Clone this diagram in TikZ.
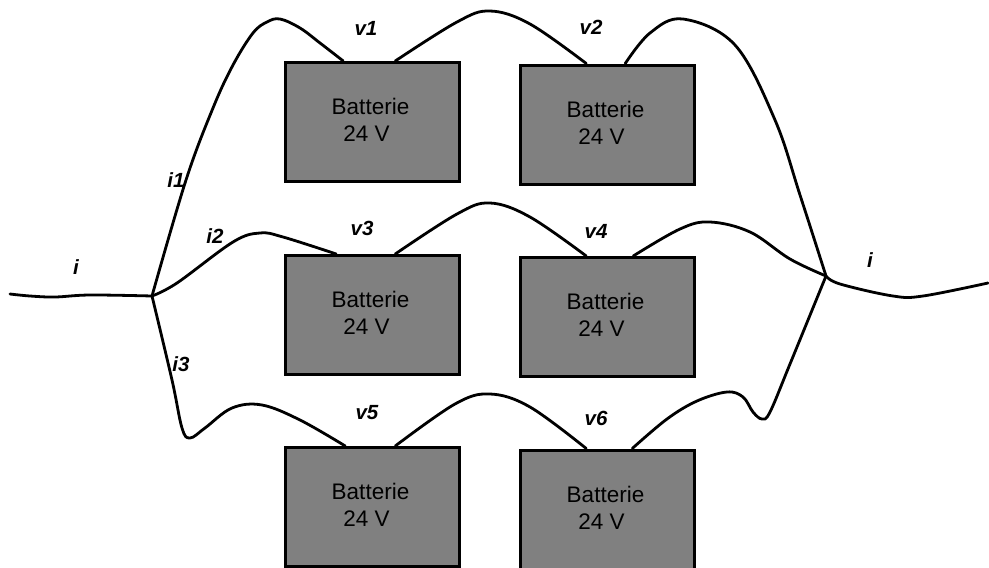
\documentclass[tikz,border=0pt]{standalone}
\usepackage{fontspec}
\setmainfont{Liberation Sans}
\tikzset{
	battbox/.style={draw=black,line width=3pt,fill=battgray,minimum width=173.5pt,minimum height=119pt,inner sep=0pt,align=center,font=\fontsize{22.5}{27}\selectfont},
	wire/.style={line width=2.8pt,line join=round,line cap=round},
	curlabel/.style={font=\fontsize{20.5}{24}\selectfont\bfseries\itshape,inner sep=0pt}
}
\definecolor{battgray}{HTML}{808080}
\newcommand{\battext}{Batterie\hspace*{4pt}\mbox{}\\24 V\hspace*{12pt}\mbox{}\\[-23pt]\mbox{}}
\begin{document}
\begin{tikzpicture}[x=1pt,y=-1pt]
	\useasboundingbox (0,0) rectangle (989,568);
	\node[battbox] (b1) at (372.5,122) {\battext};
	\node[battbox] (b2) at (607.5,124.5) {\battext};
	\node[battbox] (b3) at (372.5,315) {\battext};
	\node[battbox] (b4) at (607.5,317) {\battext};
	\node[battbox] (b5) at (372.5,507) {\battext};
	\node[battbox] (b6) at (607.5,509.5) {\battext};
	\coordinate (start) at (10,294);
	\coordinate (jl) at (152,296);
	\coordinate (jr) at (826,276);
	\coordinate (end) at (988,283);
	\draw[wire] plot[smooth,tension=0.6] coordinates {(start) (30,296) (55,297) (90,295) (jl)};
	\draw[wire] plot[smooth,tension=0.6] coordinates {(jl) (186,180) (213,108) (233,65) (253,33) (267,22) (280,19) (300,28) (320,43) ([xshift=59pt]b1.north west)};
	\draw[wire] plot[smooth,tension=0.6] coordinates {([xshift=111pt]b1.north west) (457,22) (490,11) (530,24) ([xshift=67pt]b2.north west)};
	\draw[wire] plot[smooth,tension=0.6] coordinates {([xshift=106pt]b2.north west) (650,33) (683,19) (735,45) (775,120) (800,195) (jr)};
	\draw[wire] plot[smooth,tension=0.6] coordinates {(jl) (177,283) (233,242) (260,233) (283,237) ([xshift=52pt]b3.north west)};
	\draw[wire] plot[smooth,tension=0.6] coordinates {([xshift=111pt]b3.north west) (457,214) (490,203) (530,217) ([xshift=67pt]b4.north west)};
	\draw[wire] plot[smooth,tension=0.6] coordinates {([xshift=114pt]b4.north west) (680,229) (710,222) (750,232) (790,259) (jr)};
	\draw[wire] plot[smooth,tension=0.6] coordinates {(jl) (172,380) (182,428) (190,438) (205,428) (232,408) (262,405) (300,420) ([xshift=61pt]b5.north west)};
	\draw[wire] plot[smooth,tension=0.6] coordinates {([xshift=111pt]b5.north west) (455,404) (490,394) (530,407) ([xshift=67pt]b6.north west)};
	\draw[wire] plot[smooth,tension=0.6] coordinates {([xshift=113pt]b6.north west) (667,419) (697,401) (727,392) (743,397) (753,412) (762,419) (770,412) (790,364) (jr)};
	\draw[wire] plot[smooth,tension=0.6] coordinates {(jr) (840,284) (893,296) (923,296) (end)};
	\node[curlabel] (lv1) at (366,28) {v1};
	\node[curlabel] (lv2) at (591,27) {v2};
	\node[curlabel] (lv3) at (362,228) {v3};
	\node[curlabel] (lv4) at (596,231) {v4};
	\node[curlabel] (lv5) at (367,413) {v5};
	\node[curlabel] (lv6) at (596,418) {v6};
	\node[curlabel] (li1) at (176,180) {i1};
	\node[curlabel] (li2) at (215,236) {i2};
	\node[curlabel] (li3) at (181,364) {i3};
	\node[curlabel] (lil) at (76,267) {i};
	\node[curlabel] (lir) at (870,260) {i};
\end{tikzpicture}
\end{document}
